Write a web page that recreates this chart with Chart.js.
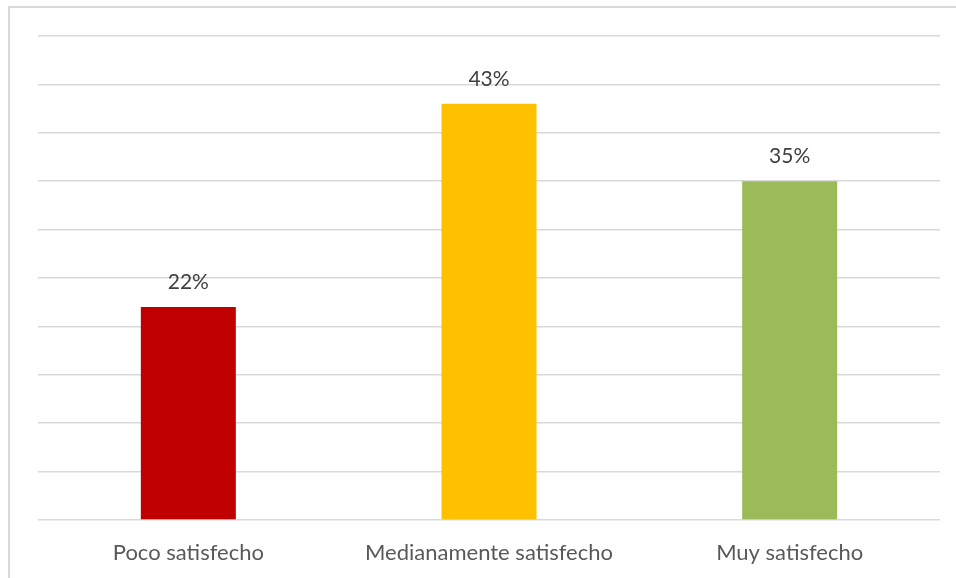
<!DOCTYPE html>
<html>
<head>
<meta charset="utf-8">
<script src="https://cdn.jsdelivr.net/npm/chart.js@4/dist/chart.umd.min.js"></script>
<style>
  html, body { margin: 0; padding: 0; background: #fff; overflow: hidden; }
  #frame { position: absolute; left: 8px; top: 6px; width: 970px; height: 600px; border: 2px solid #d9d9d9; }
  #wrap { position: absolute; left: 0; top: 0; width: 956px; height: 578px; }
</style>
</head>
<body>
<div id="frame"></div>
<div id="wrap"><canvas id="chart" width="956" height="578"></canvas></div>
<script>
const categories = ['Poco satisfecho', 'Medianamente satisfecho', 'Muy satisfecho'];
const values = [0.22, 0.43, 0.35];
const barColors = ['#C00000', '#FFC000', '#9BBB59'];

// percent labels above the bars
const barLabels = {
  id: 'barLabels',
  afterDatasetsDraw(chart) {
    const ctx = chart.ctx;
    const meta = chart.getDatasetMeta(0);
    ctx.save();
    ctx.font = '21px Lato, "Liberation Sans", sans-serif';
    ctx.fillStyle = '#404040';
    ctx.textAlign = 'center';
    ctx.textBaseline = 'middle';
    meta.data.forEach((bar, i) => {
      ctx.fillText(Math.round(values[i] * 100) + '%', bar.x, bar.y - 25);
    });
    ctx.restore();
  }
};

const ctx = document.getElementById('chart').getContext('2d');
const myChart = new Chart(ctx, {
  type: 'bar',
  data: {
    labels: categories,
    datasets: [{
      data: values,
      backgroundColor: barColors,
      borderWidth: 0,
      categoryPercentage: 1,
      barPercentage: 0.316
    }]
  },
  options: {
    responsive: false,
    animation: false,
    layout: { padding: { left: 38, right: 16, top: 36, bottom: 0 } },
    plugins: { legend: { display: false }, tooltip: { enabled: false } },
    scales: {
      x: {
        grid: { display: false },
        border: { display: false },
        ticks: {
          color: '#595959',
          font: { family: 'Lato, "Liberation Sans", sans-serif', size: 22 },
          padding: 12
        },
        afterFit(scale) { scale.height = 58; }
      },
      y: {
        min: 0,
        max: 0.5,
        ticks: { display: false, stepSize: 0.05 },
        grid: { color: '#d9d9d9', lineWidth: 1.5, drawTicks: false },
        border: { display: false },
        afterFit(scale) { scale.width = 0; }
      }
    }
  },
  plugins: [barLabels]
});
</script>
</body>
</html>
